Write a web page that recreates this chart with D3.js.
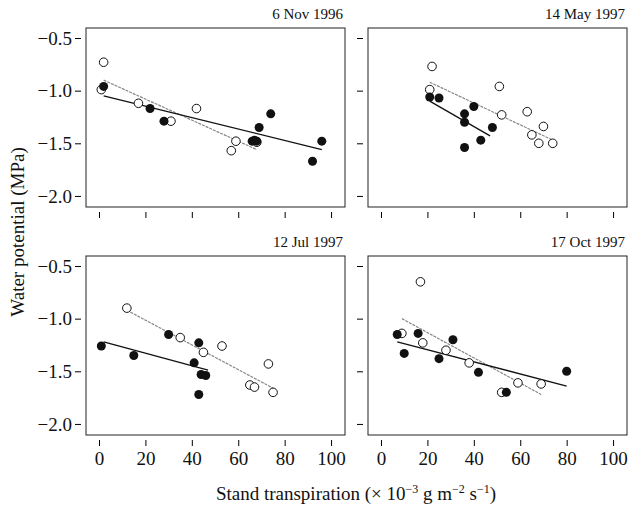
<!DOCTYPE html>
<html><head><meta charset="utf-8">
<script src="https://cdn.jsdelivr.net/npm/d3@7"></script>
<style>
body { margin: 0; background: #fff; }
svg text { font-family: "Liberation Serif", "Times New Roman", serif !important; fill: #111; }
svg .tick text { font-size: 19px !important; }
</style></head>
<body>
<svg id="chart" width="628" height="507"></svg>
<script>
const titles = ["6 Nov 1996", "14 May 1997", "12 Jul 1997", "17 Oct 1997"];
const xTicks = [0, 20, 40, 60, 80, 100];
const yTicks = [-0.5, -1.0, -1.5, -2.0];

// open circles [transpiration, potential]
const openPts = [
  [[1,-0.99],[2,-0.73],[17,-1.12],[31,-1.29],[42,-1.17],[57,-1.57],[59,-1.48],[68,-1.49]],
  [[21,-0.99],[22,-0.77],[51,-0.96],[52,-1.23],[63,-1.2],[65,-1.42],[68,-1.5],[70,-1.34],[74,-1.5]],
  [[12,-0.9],[35,-1.18],[45,-1.32],[53,-1.26],[65,-1.63],[67,-1.65],[73,-1.43],[75,-1.7]],
  [[9,-1.14],[17,-0.65],[18,-1.23],[28,-1.3],[38,-1.42],[52,-1.7],[59,-1.61],[69,-1.62]]
];
const filledPts = [
  [[2,-0.96],[22,-1.17],[28,-1.29],[66,-1.48],[67,-1.47],[68,-1.48],[69,-1.35],[74,-1.22],[92,-1.67],[96,-1.48]],
  [[21,-1.06],[25,-1.07],[36,-1.22],[36,-1.3],[36,-1.54],[40,-1.15],[43,-1.47],[48,-1.35]],
  [[1,-1.26],[15,-1.35],[30,-1.15],[41,-1.42],[43,-1.23],[43,-1.72],[44,-1.53],[46,-1.54]],
  [[7,-1.15],[10,-1.33],[16,-1.14],[25,-1.38],[31,-1.2],[42,-1.51],[54,-1.7],[80,-1.5]]
];
// fitted lines: [[x1,y1],[x2,y2]]
const filledFit = [
  [[2,-1.05],[96,-1.56]], [[21,-1.1],[47,-1.43]], [[2,-1.22],[47,-1.49]], [[7,-1.22],[80,-1.64]]
];
const openFit = [
  [[2,-0.9],[68,-1.56]], [[21,-0.92],[74,-1.47]], [[12,-0.92],[75,-1.66]], [[9,-1.0],[69,-1.72]]
];

const svg = d3.select('#chart');
const pw = 259, ph = 179;
const lefts = [86, 368], tops = [28, 256];

titles.forEach((t, i) => {
  const ox = lefts[i % 2], oy = tops[Math.floor(i / 2)];
  const g = svg.append('g').attr('transform', `translate(${ox},${oy})`);
  const x = d3.scaleLinear().domain([-5.6, 106]).range([0, pw]);
  const y = d3.scaleLinear().domain([-0.405, -2.105]).range([0, ph]);

  g.append('rect').attr('width', pw).attr('height', ph)
    .attr('fill', 'none').attr('stroke', '#222').attr('stroke-width', 1);

  const ya = g.append('g').attr('transform', 'translate(-5,0)')
    .call(d3.axisLeft(y).tickValues(yTicks).tickFormat(d => '\u2212' + Math.abs(d).toFixed(1)).tickSize(6).tickSizeOuter(0));
  ya.select('.domain').remove();
  if (i % 2 === 1) ya.selectAll('text').remove();

  const xa = g.append('g').attr('transform', `translate(0,${ph + 5})`)
    .call(d3.axisBottom(x).tickValues(xTicks).tickSize(6).tickSizeOuter(0));
  xa.select('.domain').remove();
  xa.selectAll('text').attr('dy', '0.85em');
  if (i < 2) xa.selectAll('text').remove();

  g.append('text').attr('x', pw - 2).attr('y', -9).attr('text-anchor', 'end')
    .style('font-size', '15px').text(t);

  const line = d3.line().x(d => x(d[0])).y(d => y(d[1]));
  g.append('path').attr('d', line(openFit[i])).attr('stroke', '#888')
    .attr('stroke-width', 1.2).attr('stroke-dasharray', '3,1').attr('fill', 'none');
  g.append('path').attr('d', line(filledFit[i])).attr('stroke', '#111')
    .attr('stroke-width', 1.3).attr('fill', 'none');

  g.selectAll('.o').data(openPts[i]).enter().append('circle')
    .attr('cx', d => x(d[0])).attr('cy', d => y(d[1])).attr('r', 4.3)
    .attr('fill', '#fff').attr('stroke', '#111').attr('stroke-width', 1);
  g.selectAll('.f').data(filledPts[i]).enter().append('circle')
    .attr('cx', d => x(d[0])).attr('cy', d => y(d[1])).attr('r', 4.5)
    .attr('fill', '#111');
});

svg.append('text').attr('transform', 'translate(24,232) rotate(-90)')
  .attr('text-anchor', 'middle').style('font-size', '19px').text('Water potential (MPa)');

const xl = svg.append('text').attr('x', 356).attr('y', 500).attr('text-anchor', 'middle').style('font-size', '19px');
xl.append('tspan').text('Stand transpiration (\u00d7 10');
xl.append('tspan').attr('dy', -7).style('font-size', '12px').text('\u22123');
xl.append('tspan').attr('dy', 7).text(' g m');
xl.append('tspan').attr('dy', -7).style('font-size', '12px').text('\u22122');
xl.append('tspan').attr('dy', 7).text(' s');
xl.append('tspan').attr('dy', -7).style('font-size', '12px').text('\u22121');
xl.append('tspan').attr('dy', 7).text(')');
</script>
</body></html>
